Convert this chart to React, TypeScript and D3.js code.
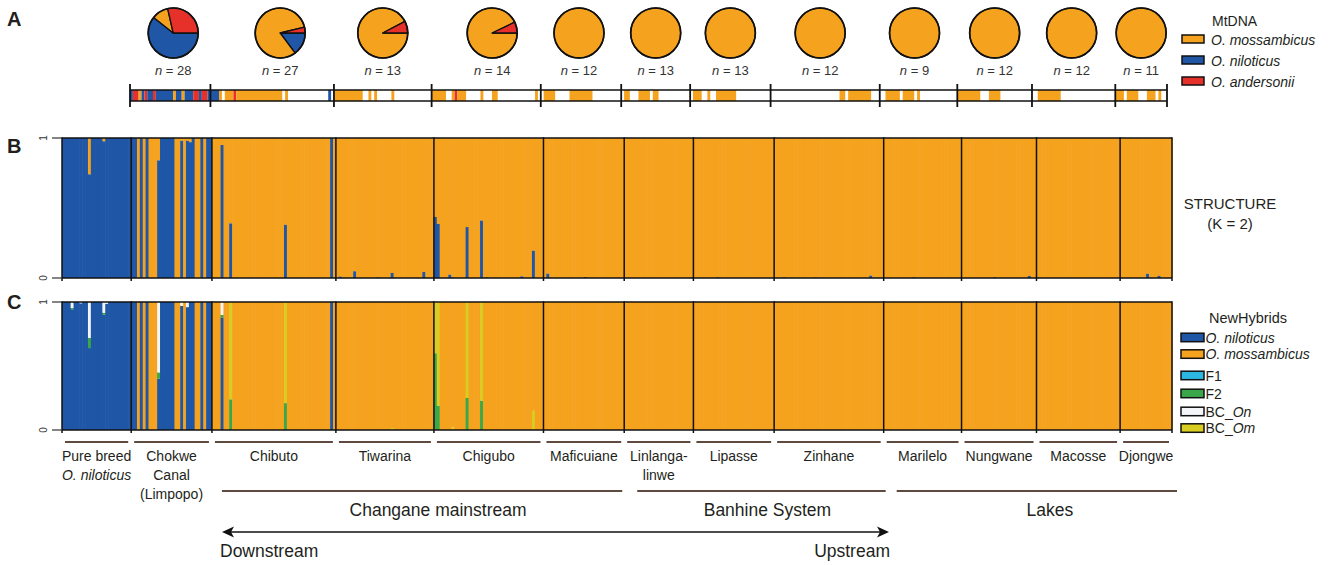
import React from 'react';
import * as d3 from 'd3';

// ---------------- data ----------------
const popNames = ['Pure breed', 'Chokwe', 'Chibuto', 'Tiwarina', 'Chigubo', 'Maficuiane', 'Linlanga-linwe', 'Lipasse', 'Zinhane', 'Marilelo', 'Nungwane', 'Macosse', 'Djongwe'];
const popLabelLines: string[][] = [
  ['Pure breed', 'O. niloticus'], ['Chokwe', 'Canal', '(Limpopo)'], ['Chibuto'], ['Tiwarina'], ['Chigubo'], ['Maficuiane'],
  ['Linlanga-', 'linwe'], ['Lipasse'], ['Zinhane'], ['Marilelo'], ['Nungwane'], ['Macosse'], ['Djongwe'],
];
const italicLines = ['O. niloticus'];
const popSizes = [24, 28, 43, 34, 38, 28, 24, 28, 38, 27, 26, 29, 18];

// MtDNA pies (populations 1..12)
const pieNiloticus = [17, 4, 0, 0, 0, 0, 0, 0, 0, 0, 0, 0];
const pieMossambicus = [3, 22, 12, 13, 12, 13, 13, 12, 9, 12, 12, 11];
const pieAndersonii = [8, 1, 1, 1, 0, 0, 0, 0, 0, 0, 0, 0];

// MtDNA haplotype per individual, run-length coded (B niloticus, O mossambicus, R andersonii, - not sequenced)
const mtdnaRuns = [
  'B1 R2 O1 B1 R1 B2 R1 B6 O1 B2 O1 B3 R2 B1 R2 B1',
  'B3 O1 -1 O3 R1 O16 -1 O1 -14 B1 -1',
  'O10 -2 O1 -1 O1 -5 O1 -13',
  'O5 -2 O1 R1 O3 -5 O1 -3 O2 -13 O1 -1',
  '-1 O4 -5 O8 -10',
  '-1 O2 -3 O4 -1 O2 -11',
  '-1 O3 -2 O1 -2 O7 -12',
  '-24 O2 -1 O8 -3',
  '-2 O5 -1 O4 -1 O1 -13',
  'O8 -3 O4 -11',
  '-2 O8 -19',
  'O3 -1 O4 -3 O3 -1 O1 -2',
];

// STRUCTURE (K = 2): O. niloticus membership q, population baseline and individual values
const structureBase = [1, 1, 0, 0, 0, 0, 0, 0, 0, 0, 0, 0, 0];
const structureIndividuals: [number, number, number][] = [
  [0, 9, 0.74], [0, 14, 0.976],
  [1, 2, 0], [1, 4, 0], [1, 6, 0], [1, 7, 0], [1, 8, 0], [1, 9, 0.84], [1, 15, 0], [1, 16, 0], [1, 17, 0.98],
  [1, 18, 0], [1, 19, 0.98], [1, 20, 0.97], [1, 22, 0], [1, 23, 0], [1, 25, 0],
  [2, 3, 0.95], [2, 6, 0.39], [2, 25, 0.38], [2, 41, 1],
  [3, 1, 0.01], [3, 6, 0.048], [3, 14, 0.005], [3, 19, 0.036], [3, 30, 0.043],
  [4, 0, 0.436], [4, 1, 0.386], [4, 5, 0.024], [4, 6, 0.005], [4, 11, 0.364], [4, 16, 0.41], [4, 18, 0.005], [4, 30, 0.012], [4, 34, 0.195],
  [5, 1, 0.031], [5, 14, 0.007],
  [6, 23, 0.005],
  [7, 8, 0.006],
  [8, 3, 0.005], [8, 14, 0.004], [8, 33, 0.017],
  [9, 10, 0.006],
  [10, 11, 0.006], [10, 23, 0.015],
  [11, 0, 0.005],
  [12, 9, 0.03], [12, 13, 0.015],
];

// NewHybrids posterior classes (stacked bottom to top)
const nhClasses = ['O. niloticus', 'F1', 'F2', 'BC_On', 'BC_Om', 'O. mossambicus'];
const nhBaseClass = [0, 0, 5, 5, 5, 5, 5, 5, 5, 5, 5, 5, 5];
const nhIndividuals: [number, number, number[]][] = [
  [0, 3, [0.943, 0, 0.01, 0.047, 0, 0]], [0, 6, [0.99, 0, 0, 0.01, 0, 0]], [0, 9, [0.64, 0, 0.08, 0.28, 0, 0]],
  [0, 14, [0.9, 0, 0.016, 0.084, 0, 0]], [0, 15, [0.987, 0, 0, 0.013, 0, 0]],
  [1, 2, [0, 0, 0, 0, 0, 1]], [1, 4, [0, 0, 0, 0, 0, 1]], [1, 6, [0, 0, 0, 0, 0, 1]], [1, 7, [0, 0, 0, 0, 0, 1]],
  [1, 8, [0, 0, 0, 0, 0, 1]], [1, 9, [0.4, 0, 0.05, 0.55, 0, 0]], [1, 15, [0, 0, 0, 0, 0, 1]], [1, 16, [0, 0, 0, 0, 0, 1]],
  [1, 17, [0.97, 0, 0, 0.03, 0, 0]], [1, 18, [0, 0, 0, 0, 0, 1]], [1, 19, [0.96, 0, 0, 0.04, 0, 0]],
  [1, 22, [0, 0, 0, 0, 0, 1]], [1, 23, [0, 0, 0, 0, 0, 1]], [1, 25, [0, 0, 0, 0, 0, 1]],
  [2, 3, [0.88, 0, 0.02, 0.1, 0, 0]], [2, 6, [0, 0, 0.24, 0, 0.76, 0]], [2, 25, [0, 0, 0.21, 0, 0.79, 0]], [2, 41, [1, 0, 0, 0, 0, 0]],
  [3, 19, [0, 0, 0, 0, 0.015, 0.985]],
  [4, 0, [0, 0, 0.6, 0, 0.4, 0]], [4, 1, [0, 0, 0.19, 0, 0.81, 0]], [4, 6, [0, 0, 0, 0, 0.02, 0.98]],
  [4, 11, [0, 0, 0.25, 0, 0.75, 0]], [4, 16, [0, 0, 0.23, 0, 0.77, 0]], [4, 34, [0, 0, 0, 0, 0.15, 0.85]],
];

const mtdnaLegend = ['O. mossambicus', 'O. niloticus', 'O. andersonii'];
const groupLabels = ['Changane mainstream', 'Banhine System', 'Lakes'];
const groupFirstPop = [2, 6, 9];
const groupLastPop = [5, 8, 12];

// ---------------- styles / layout ----------------
const C = {
  nil: '#1f56a6', moss: '#f5a21e', and: '#e6312b', f1: '#2db6e2', f2: '#3aa84a', bcOn: '#f3f5f8', bcOm: '#d9cd22',
  line: '#5e4a3e', text: '#231f20',
};
const nhColors = [C.nil, C.f1, C.f2, C.bcOn, C.bcOm, C.moss];
const hapColor: Record<string, string> = { B: C.nil, O: C.moss, R: C.and };
const FONT = "Arial, 'Liberation Sans', Helvetica, sans-serif";
const pieShift = [3, 8, 0, 6, -2, 0, 0, -5, -4, 0, -2, 0];

function Label({ text, x, y, size, anchor = 'start', italic = false }: any) {
  return (
    <text x={x} y={y} fontSize={size} textAnchor={anchor} fontStyle={italic ? 'italic' : 'normal'} fill={C.text}>{text}</text>
  );
}

export default function App() {
  const total = d3.sum(popSizes);
  const ends = Array.from(d3.cumsum(popSizes));
  const starts = [0, ...ends.slice(0, -1)];

  const x = d3.scaleLinear().domain([0, total]).range([62, 1172]);
  const xm = d3.scaleLinear().domain([popSizes[0], total]).range([130, 1167]);
  const ys = d3.scaleLinear().domain([0, 1]).range([278, 138]);
  const yn = d3.scaleLinear().domain([0, 1]).range([430, 302]);

  const q = popSizes.map((n, p) => Array.from({ length: n }, () => structureBase[p]));
  structureIndividuals.forEach(([p, i, v]) => { q[p][i] = v; });
  const nh = popSizes.map((n, p) => Array.from({ length: n }, () => nhClasses.map((_, k) => (k === nhBaseClass[p] ? 1 : 0))));
  nhIndividuals.forEach(([p, i, v]) => { nh[p][i] = v; });

  const pie = d3.pie<number>().sort(null).startAngle(Math.PI / 2).endAngle(Math.PI / 2 + 2 * Math.PI);
  const arc = d3.arc<d3.PieArcDatum<number>>().innerRadius(0).outerRadius(25);
  const pieColors = [C.nil, C.moss, C.and];

  const boundaries = [0, ...ends];

  const structureBars: JSX.Element[] = [];
  const nhBars: JSX.Element[] = [];
  popSizes.forEach((n, p) => {
    for (let i = 0; i < n; i++) {
      const g = starts[p] + i;
      const x0 = x(g);
      const w = x(g + 1) - x0 + 0.6;
      const v = q[p][i];
      structureBars.push(<rect key={`so${g}`} x={x0} y={ys(1)} width={w} height={ys(v) - ys(1)} fill={C.moss} />);
      if (v > 0) structureBars.push(<rect key={`sb${g}`} x={x0} y={ys(v)} width={w} height={ys(0) - ys(v)} fill={C.nil} />);
      let acc = 0;
      nh[p][i].forEach((pr, k) => {
        if (pr <= 0) return;
        nhBars.push(<rect key={`n${g}_${k}`} x={x0} y={yn(acc + pr)} width={w} height={yn(acc) - yn(acc + pr)} fill={nhColors[k]} />);
        acc += pr;
      });
    }
  });

  const mtdnaRects: JSX.Element[] = [];
  mtdnaRuns.forEach((s, k) => {
    let pos = starts[k + 1];
    s.split(' ').forEach((t, r) => {
      const code = t[0];
      const len = +t.slice(1);
      if (code !== '-') {
        mtdnaRects.push(<rect key={`m${k}_${r}`} x={xm(pos)} y={90} width={xm(pos + len) - xm(pos)} height={11} fill={hapColor[code]} />);
      }
      pos += len;
    });
  });

  const panelFrame = (yScale: d3.ScaleLinear<number, number>, key: string) => (
    <g key={key}>
      <line x1={62} x2={1172} y1={yScale(1)} y2={yScale(1)} stroke="#111" strokeWidth={1.6} />
      <line x1={62} x2={1172} y1={yScale(0)} y2={yScale(0)} stroke="#111" strokeWidth={1.6} />
      {boundaries.map((b, i) => (
        <line key={i} x1={x(b)} x2={x(b)} y1={yScale(1) - 0.8} y2={yScale(0) + 3} stroke="#111" strokeWidth={1.5} />
      ))}
      {[1, 0].map((t) => (
        <g key={t}>
          <line x1={52} x2={62} y1={yScale(t)} y2={yScale(t)} stroke="#333" strokeWidth={1.2} />
          <text transform={`translate(47,${yScale(t)}) rotate(-90)`} fontSize={10} textAnchor="middle" fill="#333">{t}</text>
        </g>
      ))}
    </g>
  );

  return (
    <div style={{ position: 'absolute', left: 0, top: 0 }}>
      <svg width={1332} height={565} fontFamily={FONT} style={{ display: 'block', background: '#fff' }}>
        <text x={7} y={26} fontSize={20} fontWeight="bold" fill={C.text}>A</text>
        <text x={7} y={153} fontSize={20} fontWeight="bold" fill={C.text}>B</text>
        <text x={7} y={309} fontSize={20} fontWeight="bold" fill={C.text}>C</text>

        {pieMossambicus.map((_, k) => {
          const cx = (xm(starts[k + 1]) + xm(ends[k + 1])) / 2 + pieShift[k];
          const vals = [pieNiloticus[k], pieMossambicus[k], pieAndersonii[k]];
          const n = d3.sum(vals);
          const arcs = pie(vals);
          return (
            <g key={`pie${k}`}>
              <g transform={`translate(${cx},33)`}>
                {arcs.map((a, j) => (a.value > 0 ? (
                  <path key={j} d={arc(a) as string} fill={pieColors[j]} stroke="#111" strokeWidth={1.3} strokeLinejoin="round" />
                ) : null))}
                <circle r={25} fill="none" stroke="#111" strokeWidth={1.7} />
              </g>
              <text x={cx} y={75} fontSize={13} textAnchor="middle" fill="#333">
                <tspan fontStyle="italic">n</tspan> = {n}
              </text>
            </g>
          );
        })}

        {mtdnaRects}
        <line x1={130} x2={1167} y1={90} y2={90} stroke="#111" strokeWidth={1.6} />
        <line x1={130} x2={1167} y1={101} y2={101} stroke="#111" strokeWidth={1.6} />
        {boundaries.slice(1).map((b, i) => (
          <line key={`mb${i}`} x1={xm(b)} x2={xm(b)} y1={84} y2={107} stroke="#111" strokeWidth={1.8} />
        ))}

        <Label text="MtDNA" x={1212} y={26} size={14} />
        {mtdnaLegend.map((t, i) => (
          <g key={`ml${i}`}>
            <rect x={1182} y={35 + i * 21} width={22} height={8} fill={[C.moss, C.nil, C.and][i]} stroke="#111" strokeWidth={1.5} />
            <Label text={t} x={1211} y={44.5 + i * 21} size={14} italic />
          </g>
        ))}

        {structureBars}
        {panelFrame(ys, 'sf')}
        <Label text="STRUCTURE" x={1230} y={209} size={15} anchor="middle" />
        <Label text="(K = 2)" x={1230} y={229} size={15} anchor="middle" />

        {nhBars}
        {panelFrame(yn, 'nf')}
        <Label text="NewHybrids" x={1248} y={323} size={14.5} anchor="middle" />
        {nhClasses.map((cls, i) => {
          const order = [0, 5, 1, 2, 3, 4][i];
          const yc = [337.7, 354.3, 375.7, 393.7, 411.7, 428.3][i];
          const name = nhClasses[order];
          return (
            <g key={`nl${i}`}>
              <rect x={1181} y={yc - 4.5} width={23} height={8.5} fill={nhColors[order]} stroke="#111" strokeWidth={1.5} />
              <text x={1205.5} y={yc + 5} fontSize={14} fill={C.text}>
                {name.startsWith('O.') ? <tspan fontStyle="italic">{name}</tspan>
                  : name.startsWith('BC_') ? <><tspan>BC_</tspan><tspan fontStyle="italic">{name.slice(3)}</tspan></>
                    : name}
              </text>
            </g>
          );
        })}

        {popNames.map((_, p) => {
          const x0 = x(starts[p]);
          const x1 = x(ends[p]);
          const cx = (x0 + x1) / 2;
          return (
            <g key={`pl${p}`}>
              <line x1={x0 + 3} x2={x1 - 3} y1={442} y2={442} stroke={C.line} strokeWidth={2} />
              {popLabelLines[p].map((t, li) => (
                <Label key={li} text={t} x={cx} y={461 + li * 19} size={14} anchor="middle" italic={italicLines.includes(t)} />
              ))}
            </g>
          );
        })}

        {groupLabels.map((g, i) => {
          const gx0 = x(starts[groupFirstPop[i]]) + [10, 13, 13][i];
          const gx1 = x(ends[groupLastPop[i]]) + [-2, 2, 5][i];
          return (
            <g key={`g${i}`}>
              <line x1={gx0} x2={gx1} y1={491} y2={491} stroke={C.line} strokeWidth={2} />
              <Label text={g} x={(gx0 + gx1) / 2 + [16, 6, 13][i]} y={516} size={17.5} anchor="middle" />
            </g>
          );
        })}

        <line x1={228} x2={883} y1={532} y2={532} stroke="#111" strokeWidth={1.6} />
        <path d="M222,532 L234,526.5 L231,532 L234,537.5 Z" fill="#111" />
        <path d="M889,532 L877,526.5 L880,532 L877,537.5 Z" fill="#111" />
        <Label text="Downstream" x={220} y={557} size={17.5} />
        <Label text="Upstream" x={890} y={557} size={17.5} anchor="end" />
      </svg>
    </div>
  );
}
